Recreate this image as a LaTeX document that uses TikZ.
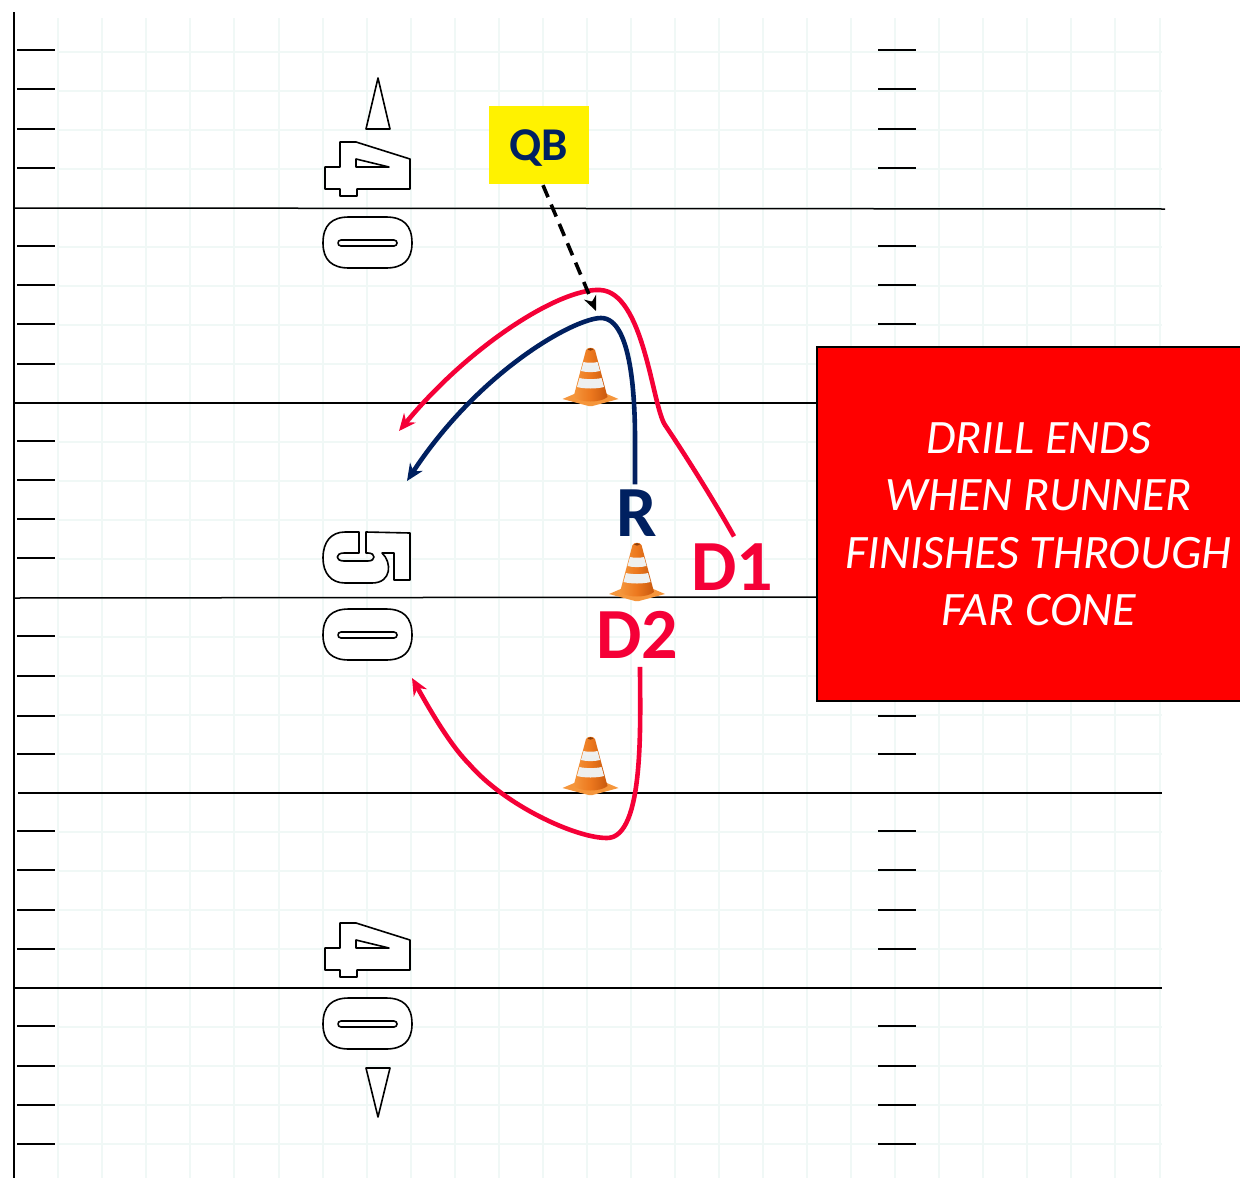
\documentclass[tikz,border=0pt]{standalone}
\usepackage{fontspec}
\setmainfont{Carlito}
\usetikzlibrary{arrows.meta}
\definecolor{gridc}{RGB}{240,248,246}
\definecolor{redc}{RGB}{245,0,55}
\definecolor{bluec}{RGB}{0,32,96}
\definecolor{coneo}{RGB}{236,120,30}
\definecolor{coned}{RGB}{200,88,14}
\definecolor{conel}{RGB}{245,150,60}
\definecolor{coneb}{RGB}{238,240,240}
\tikzset{
  gridline/.style={gridc,line width=1.5pt},
  hash/.style={black,line width=1.7pt},
  yard/.style={black,line width=1.5pt},
  digit/.style={black,line width=1.6pt,fill=white,line join=round},
  routered/.style={redc,line width=4.6pt,-{Stealth[length=17pt,width=15pt]}},
  routeblue/.style={bluec,line width=4.6pt,-{Stealth[length=17pt,width=15pt]}},
  playerlabel/.style={font=\bfseries\fontsize{72}{72}\selectfont,inner sep=0pt},
}
\newcommand{\zerodigit}[1]{%
  \begin{scope}[yshift=-#1 pt]
  \draw[digit] (323,243) .. controls (323,225) and (332,217) .. (349,217) -- (386,217) .. controls (403,217) and (412,225) .. (412,243) .. controls (412,260) and (403,268) .. (386,268) -- (349,268) .. controls (332,268) and (323,260) .. (323,243) -- cycle;
  \draw[digit] (341,240) -- (394,240) .. controls (398,240) and (398,246) .. (394,246) -- (341,246) .. controls (337,246) and (337,240) .. (341,240) -- cycle;
  \end{scope}}
\newcommand{\fourdigit}[1]{%
  \begin{scope}[yshift=-#1 pt]
  \draw[digit] (340,142) -- (356,142) -- (410,159) -- (410,189) -- (357,189) -- (357,196) -- (340,196) -- (340,189) -- (325,189) -- (325,167) -- (340,167) -- cycle;
  \draw[digit] (356,159) -- (389,167) -- (356,167) -- cycle;
  \end{scope}}
\newcommand{\conepic}[2]{%
  \begin{scope}[shift={(#1,#2)}]
  \fill[conel] (-28,23) -- (-14,17) -- (14,17) -- (28,23) -- (2,30) -- (-2,30) -- cycle;
  \shade[left color=conel,right color=coned,middle color=coneo] (-4.5,-26) .. controls (-3,-29) and (3,-29) .. (4.5,-26) -- (17,21) .. controls (10,27) and (-10,27) .. (-17,21) -- cycle;
  \fill[coned!70!black] (-3,-26.5) .. controls (-1,-28.5) and (1,-28.5) .. (3,-26.5) .. controls (1,-25) and (-1,-25) .. (-3,-26.5) -- cycle;
  \fill[coneb] (-7,-14) .. controls (-3,-13) and (3,-13) .. (7,-14) -- (9.5,-5) .. controls (4,-3.5) and (-4,-3.5) .. (-9.5,-5) -- cycle;
  \fill[coneb] (-11,2) .. controls (-5,3.5) and (5,3.5) .. (11,2) -- (13.5,11) .. controls (6,13) and (-6,13) .. (-13.5,11) -- cycle;
  \end{scope}}
\begin{document}
\begin{tikzpicture}[x=1pt,y=-1pt]
\useasboundingbox (0,0) rectangle (1240,1178);
\fill[white] (0,0) rectangle (1240,1178);
% grid
\foreach \gx in {58,102,146,190,234,279,323,367,411,455,499,543,587,631,675,719,763,807,851,895,939,983,1027,1071,1115,1160}
  \draw[gridline] (\gx,18) -- (\gx,1178);
\foreach \gy in {52,91,130,169,208,247,286,325,364,403,442,481,520,559,598,637,676,715,754,793,832,871,910,949,988,1027,1066,1105,1144}
  \draw[gridline] (58,\gy) -- (1162,\gy);
% hash marks
\foreach \hy in {50,89,129,168,246,285,324,364,441,480,519,558,636,676,716,754,831,870,910,949,1026,1066,1105,1144}{
  \draw[hash] (17,\hy) -- (55,\hy);
  \draw[hash] (878,\hy) -- (916,\hy);
}
% yard lines
\draw[yard] (14,208) -- (1165,209);
\draw[yard] (14,403) -- (820,403);
\draw[yard] (14,598) -- (820,597);
\draw[yard] (18,793) -- (1162,793);
\draw[yard] (14,988) -- (1162,988);
\draw[black,line width=2pt] (14,12) -- (14,1178);
% numbers
\draw[digit] (378,78) -- (390,129) -- (366,129) -- cycle;
\draw[digit] (378,1117) -- (390,1068) -- (366,1068) -- cycle;
\fourdigit{0}
\zerodigit{0}
\draw[digit] (359,532) -- (359,553) -- (344,553) .. controls (335,553) and (335,561) .. (344,561) -- (368,561) .. controls (376,561) and (376,553) .. (368,553) -- (366,553) -- (366,532) -- (410,533) -- (410,580) -- (394,580) -- (394,553) -- (382,553) .. controls (392,562) and (392,583) .. (372,583) -- (345,583) .. controls (331,583) and (323,573) .. (323,558) .. controls (323,542) and (331,532) .. (345,532) -- cycle;
\zerodigit{392}
\fourdigit{781}
\zerodigit{781}
% cones
\conepic{590.5}{376}
\conepic{637}{571}
\conepic{590.5}{765}
% box
\node[draw=black,line width=2pt,fill=red,minimum width=444pt,minimum height=354pt,inner sep=0pt,anchor=north west,text=white,align=center,font=\itshape\fontsize{48}{57.5}\selectfont] (msg) at (815.5,346) {DRILL ENDS\\WHEN RUNNER\\FINISHES THROUGH\\FAR CONE};
% players
\node[fill=yellow,minimum width=100pt,minimum height=78pt,inner sep=0pt] (qb) at (539,145) {};
\node[text=bluec,font=\bfseries\fontsize{47}{47}\selectfont,inner sep=0pt] (qbt) at (539,148) {QB};
\node[playerlabel,text=bluec] (r) at (637,513) {R};
\node[playerlabel,text=redc] (d1) at (732,567) {D1};
\node[playerlabel,text=redc] (d2) at (637,635) {D2};
\coordinate (qbend) at (596,311);
\coordinate (d1end) at (399,431);
\coordinate (rend) at (407,481);
\coordinate (d2end) at (412,678);
% routes
\draw[routered] (d1.north) ++(2,-7) .. controls (712,497) and (680,447) .. (665,425) .. controls (652,405) and (644,292) .. (600,290) .. controls (560,288) and (470,345) .. (d1end);
\draw[routeblue] (r.north) ++(-2,-5) -- (635,440) .. controls (635,400) and (632,318) .. (601,318) .. controls (575,318) and (480,370) .. (rend);
\draw[routered] (d2.south) ++(3,8) .. controls (640,720) and (645,838) .. (607,838) .. controls (575,838) and (505,805) .. (470,765) .. controls (450,745) and (430,710) .. (d2end);
\draw[black,line width=3.6pt,dash pattern=on 13pt off 8pt,-{Stealth[length=15pt,width=13pt]}] (qb.south) ++(4,1) -- (qbend);
\end{tikzpicture}
\end{document}
